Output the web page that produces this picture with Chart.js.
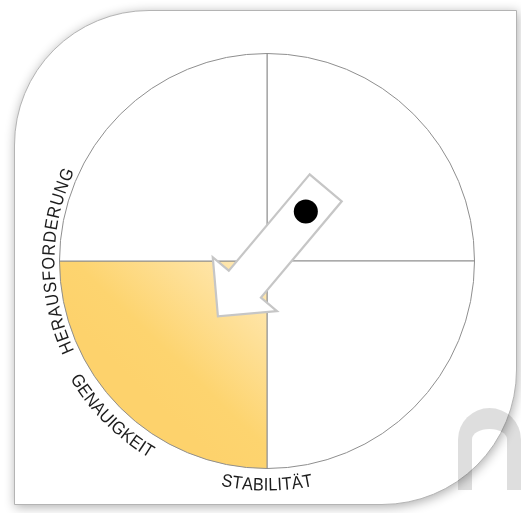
<!DOCTYPE html>
<html>
<head>
<meta charset="utf-8">
<script src="https://cdn.jsdelivr.net/npm/chart.js@4.4.0/dist/chart.umd.min.js"></script>
<style>
html,body{margin:0;padding:0;background:#fff;}
#wrap{position:relative;width:521px;height:513px;overflow:hidden;}
#logo{position:absolute;left:458px;top:408px;width:63px;height:82px;box-sizing:border-box;border-style:solid;border-color:rgba(0,0,0,0.13);border-width:21px 14px 0 14px;border-radius:34px 34px 0 0;}
#card{position:absolute;left:14px;top:10px;width:503px;height:495px;box-sizing:border-box;background:#fff;border:1px solid #b4b4b4;border-radius:135px 0 135px 0;box-shadow:1px 2px 11px rgba(0,0,0,0.32);}
canvas{position:absolute;left:0;top:0;}
</style>
</head>
<body>
<div id="wrap">
	<div id="card"></div>
	<div id="logo"></div>
	<canvas id="chart" width="521" height="513"></canvas>
</div>
<script>
// quadrants of the circle (clockwise from the top right)
var quadrantNames = ['I', 'II', 'III', 'IV'];
var quadrantValues = [1, 1, 1, 1];
var activeQuadrant = 2;

// labels round the rim, angle in degrees (0 = right, clockwise)
var rimLabels = ['HERAUSFORDERUNG', 'GENAUIGKEIT', 'STABILITÄT'];
var rimAngles = [180, 135, 90];

// direction the arrow points to
var arrowAngle = 130;

function quadrantFill(c){
	if (c.dataIndex !== activeQuadrant) return '#ffffff';
	var area = c.chart.chartArea;
	if (!area) return '#fdd36f';
	var cx = (area.left + area.right) / 2, cy = (area.top + area.bottom) / 2;
	var r = Math.min(area.right - area.left, area.bottom - area.top) / 2;
	var g = c.chart.ctx.createLinearGradient(cx, cy, cx - r * 0.6, cy + r * 0.62);
	g.addColorStop(0, '#ffebbd');
	g.addColorStop(0.75, '#fdd46f');
	g.addColorStop(1, '#fdd26c');
	return g;
}

// text bent along the circle
function drawRimText(ctx, text, cx, cy, R, deg){
	var a0 = deg * Math.PI / 180;
	var inward = Math.sin(a0) > 0.3; // lower half: letters stand up, tops to the centre
	var sx = 0.9;                    // letters a bit narrower than Arial
	var track = inward ? 0 : 1.3;
	var rb = inward ? R + 22 : R + 5;
	var rm = inward ? rb - 6 : rb + 6;
	var widths = [], total = 0;
	for (var i = 0; i < text.length; i++){
		var w = ctx.measureText(text[i]).width * sx + track;
		widths.push(w);
		total += w;
	}
	var pos = -total / 2;
	for (var j = 0; j < text.length; j++){
		var mid = pos + widths[j] / 2;
		var a = inward ? a0 - mid / rm : a0 + mid / rm;
		ctx.save();
		ctx.translate(cx + rb * Math.cos(a), cy + rb * Math.sin(a));
		ctx.rotate(inward ? a - Math.PI / 2 : a + Math.PI / 2);
		ctx.scale(sx, 1);
		ctx.fillText(text[j], 0, 0);
		ctx.restore();
		pos += widths[j];
	}
}

var rimPlugin = {
	id: 'rim',
	afterDatasetsDraw: function(chart){
		var arc = chart.getDatasetMeta(0).data[0];
		var cx = arc.x, cy = arc.y, R = arc.outerRadius;
		var ctx = chart.ctx;

		/*ARROW*/
		var t = arrowAngle * Math.PI / 180;
		var ux = Math.cos(t), uy = Math.sin(t);
		var nx = -Math.sin(t), ny = Math.cos(t);
		var off = 0.01, shaft = 0.101, head = 0.202;
		var tail = -0.452, base = 0.154, tip = 0.356;
		var pts = [
			[tail, off + shaft], [base, off + shaft], [base, off + head],
			[tip, off], [base, off - head], [base, off - shaft], [tail, off - shaft]
		];
		ctx.save();
		ctx.beginPath();
		pts.forEach(function(p, k){
			var x = cx + R * (p[0] * ux + p[1] * nx);
			var y = cy + R * (p[0] * uy + p[1] * ny);
			if (k === 0) ctx.moveTo(x, y); else ctx.lineTo(x, y);
		});
		ctx.closePath();
		ctx.fillStyle = '#ffffff';
		ctx.fill();
		ctx.lineWidth = 2.2;
		ctx.strokeStyle = '#c6c6c6';
		ctx.lineJoin = 'miter';
		ctx.stroke();

		// the dot in the shaft
		ctx.beginPath();
		ctx.arc(cx + R * (-0.303 * ux + off * nx), cy + R * (-0.303 * uy + off * ny), R * 0.058, 0, Math.PI * 2);
		ctx.fillStyle = '#000000';
		ctx.fill();

		/*LABELS*/
		ctx.font = '18px "Liberation Sans", Arial, sans-serif';
		ctx.fillStyle = '#1c1c1c';
		ctx.textAlign = 'center';
		ctx.textBaseline = 'alphabetic';
		rimLabels.forEach(function(lbl, i){
			drawRimText(ctx, lbl, cx, cy, R, rimAngles[i]);
		});
		ctx.restore();
	}
};

new Chart(document.getElementById('chart'), {
	type: 'pie',
	data: {
		labels: quadrantNames,
		datasets: [{
			data: quadrantValues,
			backgroundColor: quadrantFill,
			borderColor: '#8e8e8e',
			borderWidth: 1
		}]
	},
	options: {
		responsive: false,
		animation: false,
		layout: {padding: {left: 59, right: 46, top: 53, bottom: 44}},
		plugins: {
			legend: {display: false},
			tooltip: {enabled: false}
		}
	},
	plugins: [rimPlugin]
});
</script>
</body>
</html>
